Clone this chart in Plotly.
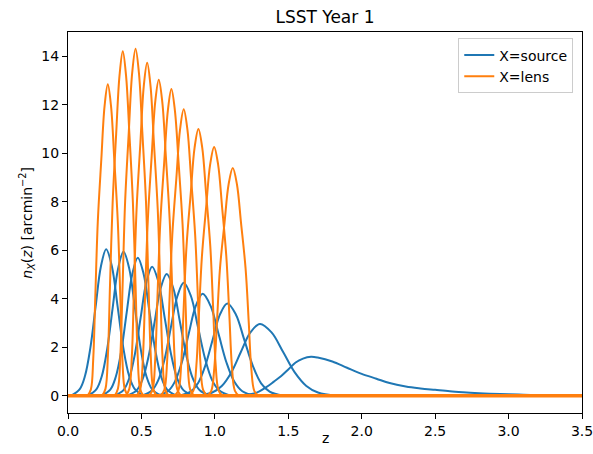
import plotly.graph_objects as go

# ---------------- data ----------------
z_min, z_max = 0.0, 3.5

# n(z) is zero outside each bin's support, over the whole z grid
baseline_z = [z_min, z_max]
baseline_n = [0.0, 0.0]

# source bins (blue): sampled points (z, n) per tomographic bin
source_z = [
    [0.022, 0.080, 0.116, 0.152, 0.188, 0.224, 0.260, 0.299, 0.338, 0.377, 0.416, 0.455, 0.517],
    [0.134, 0.193, 0.230, 0.267, 0.304, 0.341, 0.378, 0.417, 0.456, 0.495, 0.534, 0.573, 0.635],
    [0.228, 0.288, 0.325, 0.363, 0.400, 0.438, 0.475, 0.515, 0.555, 0.595, 0.635, 0.675, 0.739],
    [0.316, 0.378, 0.417, 0.456, 0.495, 0.534, 0.573, 0.616, 0.658, 0.701, 0.743, 0.786, 0.854],
    [0.401, 0.467, 0.508, 0.549, 0.590, 0.631, 0.672, 0.717, 0.762, 0.807, 0.852, 0.897, 0.969],
    [0.501, 0.571, 0.614, 0.658, 0.701, 0.745, 0.788, 0.837, 0.885, 0.934, 0.982, 1.031, 1.108],
    [0.604, 0.680, 0.727, 0.775, 0.822, 0.870, 0.917, 0.971, 1.025, 1.079, 1.133, 1.187, 1.273],
    [0.755, 0.835, 0.885, 0.935, 0.985, 1.035, 1.085, 1.143, 1.200, 1.258, 1.315, 1.373, 1.465],
    [0.878, 0.982, 1.047, 1.112, 1.177, 1.242, 1.307, 1.386, 1.465, 1.544, 1.623, 1.702, 1.828],
    [1.10, 1.20, 1.25, 1.30, 1.35, 1.40, 1.45, 1.50, 1.55, 1.60, 1.655, 1.70, 1.80, 1.90, 2.00,
     2.10, 2.19, 2.30, 2.40, 2.50, 2.60, 2.69, 2.80, 2.87, 3.00, 3.10, 3.20, 3.30, 3.40, 3.50],
]
source_n = [
    [0, 0.27, 0.82, 1.96, 3.67, 5.33, 6.04, 5.33, 3.67, 1.96, 0.82, 0.27, 0],
    [0, 0.26, 0.80, 1.93, 3.61, 5.24, 5.94, 5.24, 3.61, 1.93, 0.80, 0.26, 0],
    [0, 0.25, 0.77, 1.85, 3.45, 5.02, 5.69, 5.02, 3.45, 1.85, 0.77, 0.25, 0],
    [0, 0.23, 0.72, 1.73, 3.23, 4.69, 5.32, 4.69, 3.23, 1.73, 0.72, 0.23, 0],
    [0, 0.22, 0.68, 1.63, 3.05, 4.43, 5.02, 4.43, 3.05, 1.63, 0.68, 0.22, 0],
    [0, 0.21, 0.63, 1.51, 2.83, 4.11, 4.66, 4.11, 2.83, 1.51, 0.63, 0.21, 0],
    [0, 0.18, 0.57, 1.37, 2.55, 3.70, 4.20, 3.70, 2.55, 1.37, 0.57, 0.18, 0],
    [0, 0.17, 0.51, 1.24, 2.31, 3.35, 3.80, 3.35, 2.31, 1.24, 0.51, 0.17, 0],
    [0, 0.13, 0.40, 0.96, 1.80, 2.61, 2.96, 2.61, 1.80, 0.96, 0.40, 0.13, 0],
    [0, 0.03, 0.07, 0.17, 0.35, 0.57, 0.80, 1.08, 1.37, 1.53, 1.60, 1.57, 1.41, 1.15, 0.90,
     0.70, 0.52, 0.38, 0.30, 0.24, 0.18, 0.14, 0.10, 0.08, 0.055, 0.04, 0.025, 0.015, 0.007, 0],
]

# lens bins (orange)
lens_z = [
    [0.134, 0.156, 0.172, 0.186, 0.203, 0.227, 0.249, 0.271, 0.293, 0.315, 0.339, 0.356, 0.370, 0.387, 0.409],
    [0.233, 0.255, 0.272, 0.286, 0.304, 0.328, 0.351, 0.373, 0.395, 0.418, 0.442, 0.460, 0.474, 0.491, 0.513],
    [0.318, 0.340, 0.357, 0.372, 0.389, 0.414, 0.437, 0.460, 0.483, 0.506, 0.531, 0.548, 0.563, 0.580, 0.603],
    [0.394, 0.417, 0.435, 0.449, 0.467, 0.493, 0.516, 0.539, 0.562, 0.585, 0.611, 0.629, 0.643, 0.661, 0.684],
    [0.468, 0.492, 0.510, 0.525, 0.544, 0.570, 0.594, 0.618, 0.642, 0.666, 0.692, 0.711, 0.726, 0.744, 0.768],
    [0.552, 0.576, 0.594, 0.609, 0.628, 0.655, 0.680, 0.704, 0.728, 0.753, 0.780, 0.799, 0.814, 0.832, 0.857],
    [0.631, 0.656, 0.675, 0.690, 0.710, 0.738, 0.763, 0.788, 0.813, 0.838, 0.866, 0.886, 0.901, 0.920, 0.946],
    [0.726, 0.752, 0.771, 0.787, 0.807, 0.836, 0.862, 0.888, 0.914, 0.940, 0.969, 0.989, 1.005, 1.025, 1.051],
    [0.828, 0.854, 0.874, 0.891, 0.912, 0.941, 0.968, 0.995, 1.022, 1.049, 1.078, 1.099, 1.116, 1.136, 1.163],
    [0.947, 0.975, 0.996, 1.014, 1.035, 1.066, 1.094, 1.122, 1.150, 1.178, 1.209, 1.231, 1.248, 1.269, 1.297],
]
lens_n = [
    [0, 0.26, 1.54, 4.11, 7.19, 9.76, 11.94, 12.84, 11.94, 9.76, 7.19, 4.11, 1.54, 0.26, 0],
    [0, 0.28, 1.71, 4.55, 7.96, 10.80, 13.22, 14.21, 13.22, 10.80, 7.96, 4.55, 1.71, 0.28, 0],
    [0, 0.29, 1.72, 4.58, 8.01, 10.88, 13.31, 14.31, 13.31, 10.88, 8.01, 4.58, 1.72, 0.29, 0],
    [0, 0.27, 1.65, 4.39, 7.69, 10.43, 12.77, 13.73, 12.77, 10.43, 7.69, 4.39, 1.65, 0.27, 0],
    [0, 0.26, 1.56, 4.17, 7.30, 9.90, 12.12, 13.03, 12.12, 9.90, 7.30, 4.17, 1.56, 0.26, 0],
    [0, 0.25, 1.52, 4.05, 7.08, 9.61, 11.76, 12.65, 11.76, 9.61, 7.08, 4.05, 1.52, 0.25, 0],
    [0, 0.24, 1.42, 3.78, 6.61, 8.98, 10.98, 11.81, 10.98, 8.98, 6.61, 3.78, 1.42, 0.24, 0],
    [0, 0.22, 1.32, 3.52, 6.16, 8.36, 10.23, 11.00, 10.23, 8.36, 6.16, 3.52, 1.32, 0.22, 0],
    [0, 0.21, 1.23, 3.28, 5.75, 7.80, 9.54, 10.26, 9.54, 7.80, 5.75, 3.28, 1.23, 0.21, 0],
    [0, 0.19, 1.13, 3.00, 5.26, 7.14, 8.73, 9.39, 8.73, 7.14, 5.26, 3.00, 1.13, 0.19, 0],
]

x_ticks = [0.0, 0.5, 1.0, 1.5, 2.0, 2.5, 3.0, 3.5]
y_ticks = [0, 2, 4, 6, 8, 10, 12, 14]

SOURCE_COLOR = "#1f77b4"
LENS_COLOR = "#ff7f0e"
FONT = "DejaVu Sans"

fig = go.Figure()

# zero-valued parts of the source curves (hidden below the lens baseline)
fig.add_trace(go.Scatter(x=baseline_z, y=baseline_n, mode="lines", showlegend=False,
                         legendgroup="source", hoverinfo="skip",
                         line=dict(color=SOURCE_COLOR, width=2)))

for i, (z, n) in enumerate(zip(source_z, source_n)):
    fig.add_trace(go.Scatter(
        x=z, y=n, mode="lines", name="X=source", legendgroup="source",
        showlegend=(i == 0),
        line=dict(color=SOURCE_COLOR, width=2, shape="spline", smoothing=1.0),
    ))

# zero-valued parts of the ten lens curves, stacked on top of each other
fig.add_trace(go.Scatter(x=baseline_z, y=baseline_n, mode="lines", showlegend=False,
                         legendgroup="lens", hoverinfo="skip",
                         line=dict(color=LENS_COLOR, width=3.5)))

for i, (z, n) in enumerate(zip(lens_z, lens_n)):
    fig.add_trace(go.Scatter(
        x=z, y=n, mode="lines", name="X=lens", legendgroup="lens",
        showlegend=(i == 0),
        line=dict(color=LENS_COLOR, width=2, shape="spline", smoothing=1.0),
    ))

axis_common = dict(
    showgrid=False, zeroline=False, showline=True, linecolor="black", linewidth=1,
    mirror=True, ticks="outside", ticklen=5, tickwidth=1, tickcolor="black",
    ticklabeloverflow="allow",
    tickfont=dict(family=FONT, size=14, color="black"),
)

fig.update_layout(
    width=593, height=454,
    margin=dict(l=68, r=11, t=32, b=41, autoexpand=False),
    paper_bgcolor="white", plot_bgcolor="white",
    font=dict(family=FONT, size=14, color="black"),
    title=dict(text="LSST Year 1", x=0.548, xanchor="center", y=0.962, yanchor="middle",
               font=dict(family=FONT, size=17, color="black")),
    xaxis=dict(range=[z_min, z_max + 1e-6], tickvals=x_ticks,
               ticktext=[f"{v:.1f}" for v in x_ticks], **axis_common),
    yaxis=dict(range=[-0.715, 15.0], tickvals=y_ticks, ticktext=[str(v) for v in y_ticks],
               **axis_common),
    legend=dict(x=0.983, y=0.983, xanchor="right", yanchor="top",
                bgcolor="rgba(255,255,255,0.8)", bordercolor="#cccccc", borderwidth=1,
                font=dict(family=FONT, size=14, color="black"), tracegroupgap=0),
    showlegend=True,
    annotations=[
        dict(text="z", xref="paper", yref="paper", x=0.5, y=-0.065, xanchor="center",
             yanchor="middle", showarrow=False, font=dict(family=FONT, size=14, color="black")),
        dict(text="<i>n</i><sub><i>X</i></sub>(<i>z</i>) [arcmin<sup>−2</sup>]",
             xref="paper", yref="paper", x=-0.081, y=0.5, xanchor="center", yanchor="middle",
             textangle=-90, showarrow=False, font=dict(family=FONT, size=14, color="black")),
    ],
)

fig.write_html("out.html")
